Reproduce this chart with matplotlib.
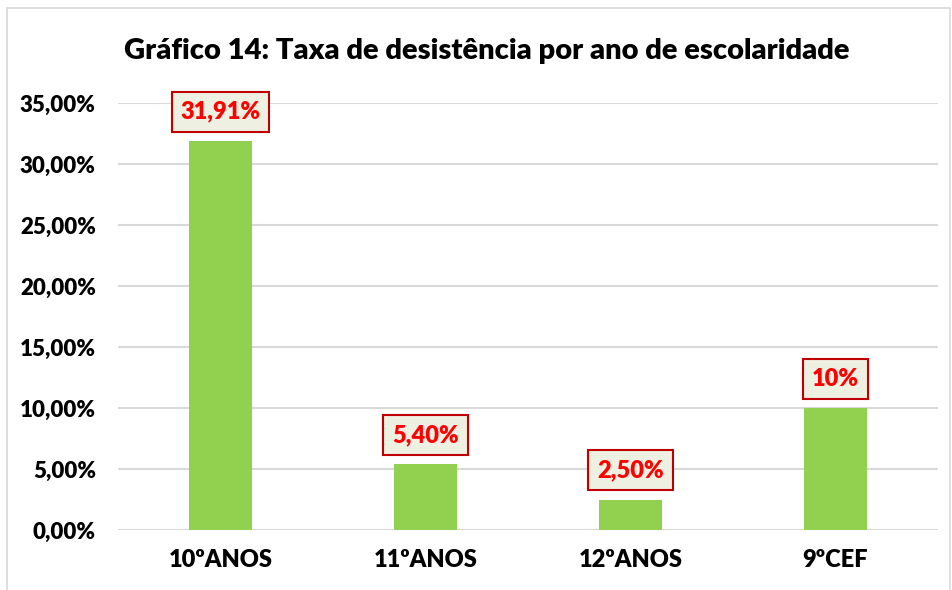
import matplotlib.pyplot as plt
from matplotlib.patches import Rectangle

categories = ['10ºANOS', '11ºANOS', '12ºANOS', '9ºCEF']
values = [0.3191, 0.054, 0.025, 0.10]
labels = ['31,91%', '5,40%', '2,50%', '10%']
yticks = [0, 0.05, 0.10, 0.15, 0.20, 0.25, 0.30, 0.35]

plt.rcParams['font.family'] = ['Lato', 'DejaVu Sans']
plt.rcParams['font.weight'] = 'heavy'

fig = plt.figure(figsize=(9.53, 5.90), dpi=100)
fig.patches.append(Rectangle((7/953, -0.01), 943/953, 1 - 8/590 + 0.01,
                             transform=fig.transFigure, fill=False,
                             edgecolor='#d9d9d9', linewidth=1.2))
ax = fig.add_axes([118/953, 1-530/590, 820/953, 427/590])

x = range(len(categories))
ax.bar(x, values, width=0.31, color='#92d050', zorder=3)

for i, v in enumerate(values):
    ax.annotate(labels[i], (i, v), xytext=(0, 13), textcoords='offset points',
                ha='center', va='bottom', color='#ff0000', fontsize=17, fontweight='heavy',
                bbox=dict(boxstyle='square,pad=0.38', facecolor='#eef0e2', edgecolor='#c00000', linewidth=1.5),
                zorder=5)

ax.set_xlim(-0.5, 3.5)
ax.set_ylim(0, 0.35)
ax.set_yticks(yticks)
ax.set_yticklabels([('%.2f%%' % (t*100)).replace('.', ',') for t in yticks], fontsize=16, fontweight='heavy')
ax.set_xticks(list(x))
ax.set_xticklabels(categories, fontsize=17, fontweight='heavy')
ax.grid(axis='y', color='#d9d9d9', linewidth=1.5, zorder=0)
for s in ax.spines.values():
    s.set_visible(False)
ax.tick_params(axis='y', length=0, pad=16)
ax.tick_params(axis='x', length=0, pad=14)

fig.text(487/953, 1-51/590, 'Gráfico 14: Taxa de desistência por ano de escolaridade',
         ha='center', va='center', fontsize=21, fontweight='heavy')

fig.savefig('out.png', dpi=100)
